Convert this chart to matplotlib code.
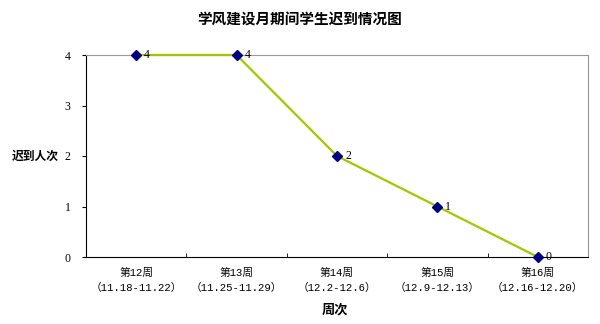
import matplotlib
matplotlib.use("Agg")
import matplotlib.pyplot as plt

# data
weeks = ["第12周", "第13周", "第14周", "第15周", "第16周"]
ranges = ["（11.18-11.22）", "（11.25-11.29）", "（12.2-12.6）", "（12.9-12.13）", "（12.16-12.20）"]
late = [4, 4, 2, 1, 0]

plt.rcParams['font.family'] = ['Noto Sans CJK SC', 'DejaVu Sans']
MONO = ['Liberation Mono', 'Noto Sans CJK SC']

fig = plt.figure(figsize=(6, 3.24), dpi=100)
ax = fig.add_axes([86/600, 1-257/324, (588-86)/600, (257-55)/324])

x = list(range(len(late)))
ax.plot(x, late, color="#a0c800", lw=1.6, marker="D", ms=5.5,
        mfc="#000080", mec="#000080", zorder=3, clip_on=False)
for xi, v in zip(x, late):
    ax.text(xi + 0.08, v, str(v), va="center", ha="left", fontsize=8.5,
            family=["Liberation Serif"], zorder=4)

ax.set_xlim(-0.5, 4.5)
ax.set_ylim(0, 4)
ax.set_yticks([0, 1, 2, 3, 4])
ax.set_yticklabels([str(i) for i in range(5)], family=["Liberation Serif"], fontsize=8.5)
ax.set_xticks(x)
ax.set_xticklabels([f"{w}\n{r}" for w, r in zip(weeks, ranges)], fontsize=7.7,
                   linespacing=1.6, family=MONO)
ax.set_xticks([i + 0.5 for i in range(4)], minor=True)
ax.tick_params(axis="x", which="major", length=0, pad=8)
ax.tick_params(axis="x", which="minor", length=3, direction="in")
ax.tick_params(axis="y", length=3, direction="out", pad=8)

for s in ["top", "right"]:
    ax.spines[s].set_color("#999999")
    ax.spines[s].set_linewidth(0.8)
for s in ["left", "bottom"]:
    ax.spines[s].set_color("black")
    ax.spines[s].set_linewidth(0.8)

fig.text(0.5, 1-20/324, "学风建设月期间学生迟到情况图", ha="center", va="center",
         fontsize=10.5, fontweight="bold")
fig.text(12/600, 1-156/324, "迟到人次", ha="left", va="center", fontsize=8.5, fontweight="bold")
fig.text(335/600, 1-310/324, "周次", ha="center", va="center", fontsize=9.5, fontweight="bold")

fig.savefig("out.png", dpi=100, facecolor="white")
